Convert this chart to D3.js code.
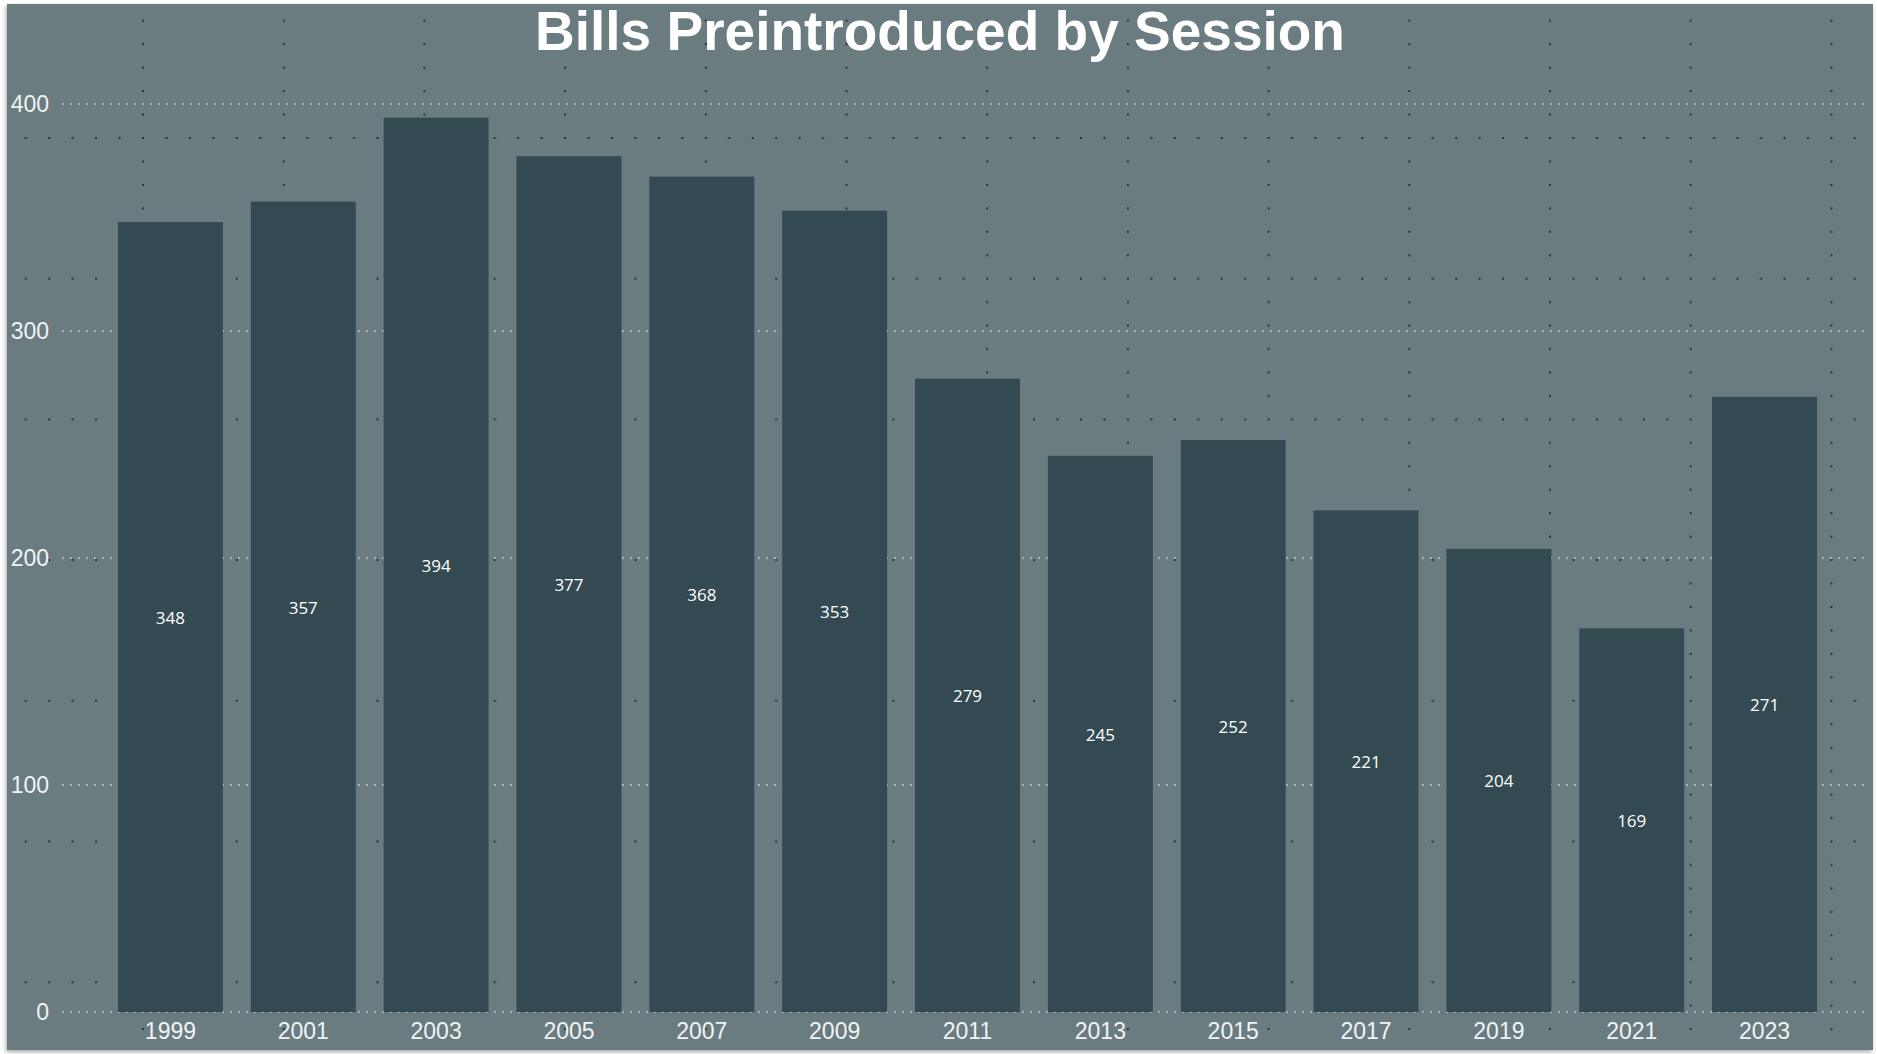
<!DOCTYPE html>
<html>
<head>
<meta charset="utf-8">
<script src="https://cdn.jsdelivr.net/npm/d3@7"></script>
<style>
  html, body { margin: 0; padding: 0; background: #ffffff; overflow: hidden; }
  svg { display: block; }
</style>
</head>
<body>
<svg id="chart" width="1877" height="1054"></svg>
<script>
const sessions = ["1999","2001","2003","2005","2007","2009","2011","2013","2015","2017","2019","2021","2023"];
const bills = [348, 357, 394, 377, 368, 353, 279, 245, 252, 221, 204, 169, 271];
const yTicks = [0, 100, 200, 300, 400];
const title = "Bills Preintroduced by Session";

const svg = d3.select("#chart");
const panel = {x: 7, y: 4, w: 1866, h: 1046};

const defs = svg.append("defs");
const f = defs.append("filter").attr("id", "shadow").attr("x", -0.02).attr("y", -0.02).attr("width", 1.04).attr("height", 1.04);
f.append("feDropShadow").attr("dx", -1).attr("dy", 2).attr("stdDeviation", 2).attr("flood-color", "#000").attr("flood-opacity", 0.35);

// dotted canvas-grid pattern
const cell = 140.7, sub = cell / 6, ds = 2;
const pat = defs.append("pattern").attr("id", "dots").attr("patternUnits", "userSpaceOnUse")
  .attr("x", 2.3).attr("y", -2.7).attr("width", cell).attr("height", cell);
const dot = (px, py) => pat.append("rect").attr("x", px - ds / 2).attr("y", py - ds / 2)
  .attr("width", ds).attr("height", ds).attr("fill", "#25343a");
d3.range(7).forEach(i => { dot(i * sub, 0); dot(i * sub, cell); });
d3.range(1, 6).forEach(i => { dot(0, i * sub); dot(cell, i * sub); });

svg.append("rect").attr("x", panel.x).attr("y", panel.y).attr("width", panel.w).attr("height", panel.h)
  .attr("fill", "#6b7b80").attr("filter", "url(#shadow)");
svg.append("rect").attr("x", panel.x).attr("y", panel.y).attr("width", panel.w).attr("height", panel.h)
  .attr("fill", "url(#dots)");

const x = d3.scaleBand().domain(sessions).range([104, 1831]).paddingInner(0.21).paddingOuter(0.105);
const y = d3.scaleLinear().domain([0, 400]).range([1012, 104]);

// gridlines
svg.append("g").selectAll("line").data(yTicks).join("line")
  .attr("x1", 62).attr("x2", 1870)
  .attr("y1", d => y(d)).attr("y2", d => y(d))
  .attr("stroke", "#d7dfe2").attr("stroke-opacity", 0.75).attr("stroke-width", 1.3)
  .attr("stroke-dasharray", "2,6");

// y axis
const yAxis = d3.axisLeft(y).tickValues(yTicks).tickSize(0).tickPadding(0);
const gy = svg.append("g").attr("transform", "translate(49,0)").call(yAxis);
gy.select(".domain").remove();
gy.selectAll("text").attr("fill", "#f0f4f5").attr("font-family", "Liberation Sans, Arial, sans-serif").attr("font-size", 23);

// bars
svg.append("g").selectAll("rect").data(bills).join("rect")
  .attr("x", (d, i) => x(sessions[i])).attr("width", x.bandwidth())
  .attr("y", d => y(d)).attr("height", d => y(0) - y(d))
  .attr("fill", "#344a52");

// value labels
svg.append("g").selectAll("text").data(bills).join("text")
  .attr("x", (d, i) => x(sessions[i]) + x.bandwidth() / 2)
  .attr("y", d => (y(d) + y(0)) / 2)
  .attr("dy", "0.4em").attr("text-anchor", "middle")
  .attr("fill", "#ffffff").attr("font-family", "Open Sans, Noto Sans, sans-serif").attr("font-size", 17)
  .text(d => d);

// x axis
const xAxis = d3.axisBottom(x).tickSize(0).tickPadding(0);
const gx = svg.append("g").attr("transform", "translate(0,1023)").call(xAxis);
gx.select(".domain").remove();
gx.selectAll("text").attr("fill", "#f0f4f5").attr("font-family", "Liberation Sans, Arial, sans-serif").attr("font-size", 23);

// title
svg.append("text").attr("x", 940).attr("y", 50).attr("text-anchor", "middle")
  .attr("fill", "#ffffff").attr("font-family", "Liberation Sans, Arial, sans-serif")
  .attr("font-weight", "bold").attr("font-size", 55).text(title);
</script>
</body>
</html>
